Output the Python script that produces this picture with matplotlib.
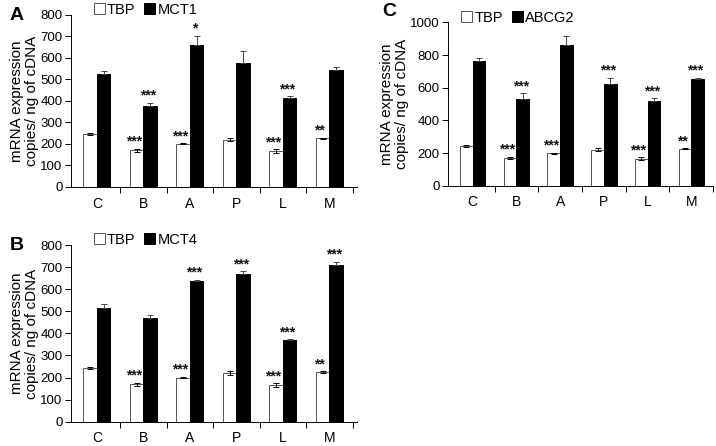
import numpy as np
import matplotlib
matplotlib.use('Agg')
import matplotlib.pyplot as plt

plt.rcParams['font.family'] = ['Liberation Sans', 'DejaVu Sans']

groups = ['C', 'B', 'A', 'P', 'L', 'M']

# reference gene, same in all three panels
tbp = [245, 170, 200, 220, 165, 225]
tbp_err = [5, 7, 3, 9, 9, 3]
tbp_stars = ['', '***', '***', '', '***', '**']

mct1 = [525, 376, 660, 576, 413, 545]
mct1_err = [13, 15, 43, 57, 8, 14]
mct1_stars = ['', '***', '*', '', '***', '']

mct4 = [516, 471, 637, 669, 368, 712]
mct4_err = [18, 12, 7, 13, 5, 12]
mct4_stars = ['', '', '***', '***', '***', '***']

abcg2 = [765, 531, 865, 622, 520, 655]
abcg2_err = [17, 36, 51, 39, 17, 6]
abcg2_stars = ['', '***', '', '***', '***', '***']

fig = plt.figure(figsize=(7.16, 4.46), dpi=100)


def panel(rect, gene, vals, errs, stars, ymax, ystep, xr, leg_x):
    ax = fig.add_axes(rect)
    x = np.arange(len(groups))
    w = 0.29
    b1 = ax.bar(x - w / 2, tbp, w, color='white', edgecolor='#555555', linewidth=0.7,
                yerr=tbp_err, error_kw=dict(elinewidth=0.7, capsize=2, capthick=0.7))
    b2 = ax.bar(x + w / 2, vals, w, color='black', edgecolor='black', linewidth=0.7,
                yerr=[np.zeros(len(errs)), errs],
                error_kw=dict(elinewidth=0.7, capsize=2, capthick=0.7, ecolor='#444444'))
    for i in range(len(groups)):
        if tbp_stars[i]:
            ax.annotate(tbp_stars[i], (x[i] - w / 2, tbp[i] + tbp_err[i]), xytext=(-2, 0),
                        textcoords='offset points', ha='center', va='bottom',
                        fontsize=10, fontweight='bold', color='#111111')
        if stars[i]:
            ax.annotate(stars[i], (x[i] + w / 2, vals[i] + errs[i]), xytext=(-1.5, 0),
                        textcoords='offset points', ha='center', va='bottom',
                        fontsize=10, fontweight='bold', color='#111111')
    ax.set_xlim(-0.56, xr)
    ax.set_ylim(0, ymax)
    ax.set_yticks(np.arange(0, ymax + 1, ystep))
    ax.set_xticks(x)
    ax.set_xticklabels(groups)
    ax.set_xticks(np.arange(0.5, len(groups), 1), minor=True)
    ax.tick_params(axis='x', which='major', length=0, pad=7, labelsize=10)
    ax.tick_params(axis='x', which='minor', length=4, direction='out', width=0.7)
    ax.tick_params(axis='y', length=4, width=0.7, labelsize=9.5, pad=2)
    ax.spines['top'].set_visible(False)
    ax.spines['right'].set_visible(False)
    ax.spines['left'].set_linewidth(0.7)
    ax.spines['bottom'].set_linewidth(0.7)
    ax.set_ylabel('mRNA expression\ncopies/ ng of cDNA', fontsize=11, labelpad=1,
                  linespacing=1.05)
    ax.legend([b1, b2], ['TBP', gene], loc='center left', bbox_to_anchor=(leg_x, 1.03),
              ncol=2, frameon=False, handlelength=0.75, handleheight=0.75,
              handletextpad=0.15, columnspacing=0.6, fontsize=10.5, borderaxespad=0,
              borderpad=0)
    return ax


panel([0.099, 0.581, 0.400, 0.386], 'MCT1', mct1, mct1_err, mct1_stars, 800, 100, 5.6, 0.08)
panel([0.099, 0.0545, 0.400, 0.396], 'MCT4', mct4, mct4_err, mct4_stars, 800, 100, 5.6, 0.08)
panel([0.626, 0.5836, 0.370, 0.366], 'ABCG2', abcg2, abcg2_err, abcg2_stars, 1000, 200, 5.5, 0.05)

fig.text(10 / 716, 1 - 15 / 446, 'A', fontsize=14, fontweight='bold', va='center')
fig.text(10 / 716, 1 - 245 / 446, 'B', fontsize=14, fontweight='bold', va='center')
fig.text(382 / 716, 1 - 12 / 446, 'C', fontsize=14, fontweight='bold', va='center')

fig.savefig('out.png', dpi=100)
